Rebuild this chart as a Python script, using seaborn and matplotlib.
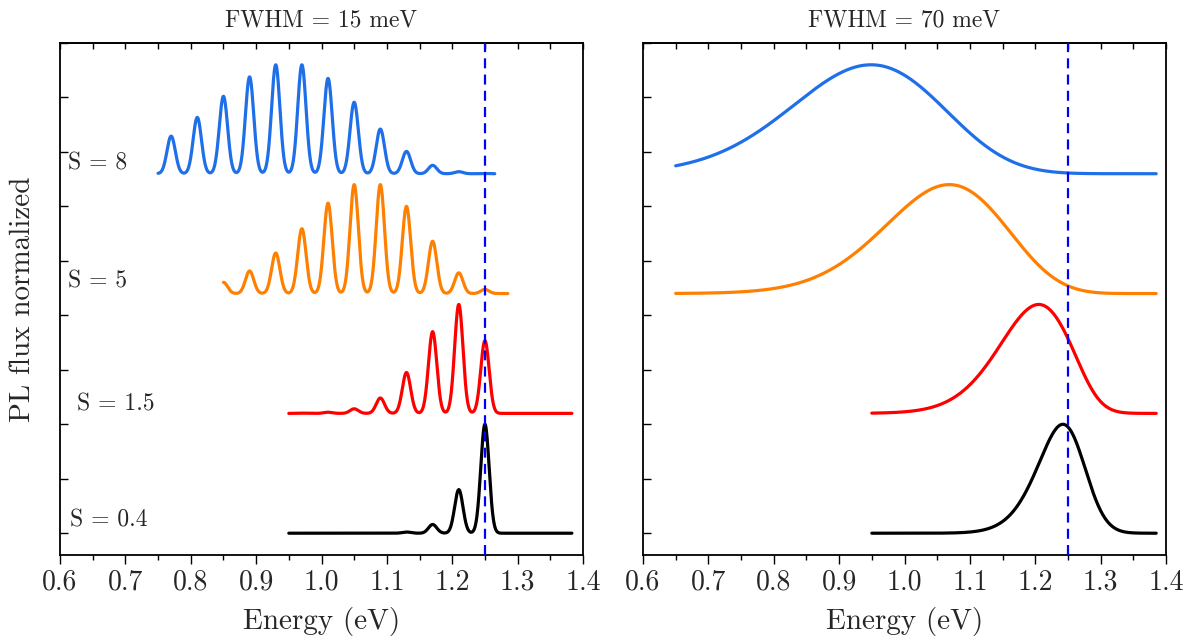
import numpy as np
import pandas as pd
import matplotlib
matplotlib.use("Agg")
import matplotlib.pyplot as plt
import seaborn as sns
from matplotlib.ticker import MultipleLocator, FormatStrFormatter

# ---------------- data ----------------
# zero-phonon line and phonon replicas (eV)
peak_energy = [1.25, 1.21, 1.17, 1.13, 1.09, 1.05, 1.01, 0.97, 0.93, 0.89,
               0.85, 0.81, 0.77, 0.73, 0.69, 0.65, 0.61, 0.57, 0.53]
# relative peak heights of each replica, per Huang-Rhys factor
peaks_s04 = [1.0, 0.40, 0.08, 0.011, 0.001, 0, 0, 0, 0, 0,
             0, 0, 0, 0, 0, 0, 0, 0, 0]
peaks_s15 = [0.667, 1.0, 0.75, 0.375, 0.141, 0.042, 0.0105, 0.0022, 0.0004, 0,
             0, 0, 0, 0, 0, 0, 0, 0, 0]
peaks_s5 = [0.038, 0.19, 0.48, 0.80, 1.0, 1.0, 0.83, 0.595, 0.372, 0.207,
            0.103, 0.047, 0.0196, 0.0075, 0.0027, 0.0009, 0.0003, 0, 0]
peaks_s8 = [0.0024, 0.019, 0.077, 0.205, 0.41, 0.656, 0.875, 1.0, 1.0, 0.889,
            0.711, 0.517, 0.345, 0.212, 0.121, 0.065, 0.032, 0.015, 0.0068]

series_labels = ["S = 0.4", "S = 1.5", "S = 5", "S = 8"]
series_peaks = [peaks_s04, peaks_s15, peaks_s5, peaks_s8]
series_offset = [0.0, 1.1, 2.2, 3.3]
series_colors = ["#000000", "#ff0000", "#ff8000", "#1f6fe8"]

panel_fwhm = [0.015, 0.070]                 # eV
panel_titles = ["FWHM = 15 meV", "FWHM = 70 meV"]
left_start = [0.95, 0.95, 0.85, 0.75]
left_end = [1.383, 1.383, 1.285, 1.265]
right_start = [0.95, 0.95, 0.65, 0.65]
right_end = [1.385, 1.385, 1.385, 1.385]
zpl_energy = 1.25

label_x = [0.615, 0.626, 0.612, 0.612]
label_y = [0.12, 1.18, 2.31, 3.39]

xticks = [0.6, 0.7, 0.8, 0.9, 1.0, 1.1, 1.2, 1.3, 1.4]

# ---------------- build curves ----------------
rows = []
for p, (fw, starts, ends) in enumerate(zip(panel_fwhm, [left_start, right_start],
                                         [left_end, right_end])):
    sig = fw / (2 * np.sqrt(2 * np.log(2)))
    for lab, pk, off, xs, xe in zip(series_labels, series_peaks, series_offset, starts, ends):
        x = np.linspace(xs, xe, 1200)
        y = np.zeros_like(x)
        for e, h in zip(peak_energy, pk):
            y += h * np.exp(-0.5 * ((x - e) / sig) ** 2)
        y = y / y.max() + off
        rows.append(pd.DataFrame({"panel": p, "series": lab, "Energy": x, "PL": y}))
df = pd.concat(rows, ignore_index=True)

# ---------------- plot ----------------
sns.set_theme(style="ticks")
plt.rcParams["font.family"] = ["cmr10", "DejaVu Serif"]
plt.rcParams["mathtext.fontset"] = "cm"
plt.rcParams["axes.formatter.use_mathtext"] = True
plt.rcParams["axes.unicode_minus"] = False

fig = plt.figure(figsize=(11.96, 6.43), dpi=100)
W, H = 1196, 643
ax_l = fig.add_axes([60 / W, (H - 555) / H, 523 / W, 512 / H])
ax_r = fig.add_axes([643 / W, (H - 555) / H, 523 / W, 512 / H])
axes = [ax_l, ax_r]

palette = dict(zip(series_labels, series_colors))
for p, ax in enumerate(axes):
    d = df[df["panel"] == p]
    sns.lineplot(data=d, x="Energy", y="PL", hue="series", palette=palette,
                 sort=False, estimator=None, linewidth=2.3, legend=False, ax=ax)
    ax.axvline(zpl_energy, color="#0000ff", linestyle=(0, (4.5, 2.8)), linewidth=1.6, zorder=5)
    ax.set_xlim(0.6, 1.4)
    ax.set_ylim(-0.2, 4.5)
    ax.set_xticks(xticks)
    ax.xaxis.set_minor_locator(MultipleLocator(0.05))
    ax.xaxis.set_major_formatter(FormatStrFormatter("%.1f"))
    ax.yaxis.set_major_locator(MultipleLocator(0.5))
    ax.set_yticklabels([])
    ax.tick_params(axis="x", which="major", direction="out", length=6.5, width=1.0,
                   labelsize=20, pad=4, bottom=True, top=False, color="black")
    ax.tick_params(axis="x", which="minor", direction="out", length=3.5, width=1.0,
                   bottom=True, top=False, color="black")
    ax.tick_params(axis="y", which="major", direction="in", length=6, width=1.0,
                   left=True, right=False, color="black")
    for s in ax.spines.values():
        s.set_linewidth(1.3)
        s.set_color("black")
    # top ticks pointing inward
    sec = ax.secondary_xaxis("top")
    sec.set_xticks(xticks)
    sec.xaxis.set_minor_locator(MultipleLocator(0.05))
    sec.tick_params(axis="x", which="both", direction="in", length=4, width=1.0,
                    labeltop=False, color="black")
    sec.spines["top"].set_linewidth(1.3)
    ax.set_xlabel("Energy (eV)", fontsize=21, labelpad=8)
    ax.set_ylabel("")
    ax.set_title(panel_titles[p], fontsize=17, pad=12)
    ax.grid(False)

ax_l.set_ylabel("PL flux normalized", fontsize=21, labelpad=14)
for lab, lx, ly in zip(series_labels, label_x, label_y):
    ax_l.text(lx, ly, lab, fontsize=17, ha="left", va="center")

fig.savefig("out.png", dpi=100)
